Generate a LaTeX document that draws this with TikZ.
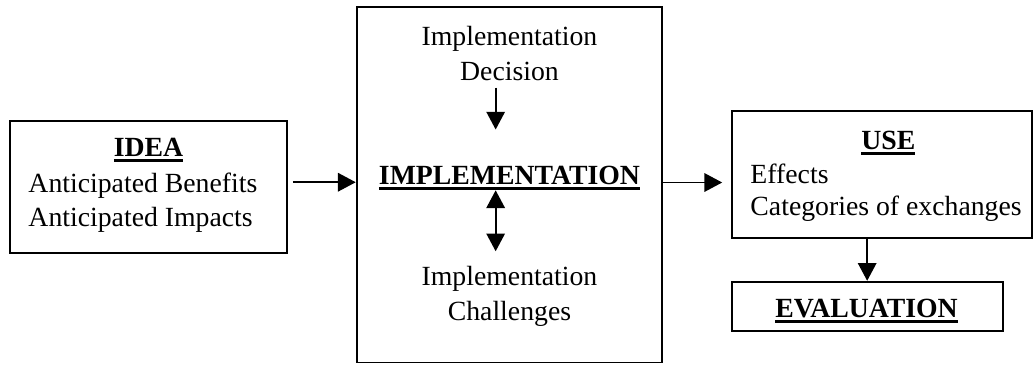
\documentclass[tikz,border=0pt]{standalone}
\usepackage{fontspec}
\setmainfont{Liberation Serif}
\usepackage{tikz}
\usetikzlibrary{arrows.meta, calc}
\newsavebox{\headbox}
\newcommand{\heading}[1]{\sbox{\headbox}{\textbf{#1}}\rlap{\usebox{\headbox}}\rule[-2.4pt]{\wd\headbox}{1.3pt}}
\tikzstyle{stage} = [rectangle, draw=black, line width=0.8pt, inner sep=0pt]
\tikzstyle{phasetext} = [inner sep=0pt, anchor=base, font=\fontsize{12}{14}\selectfont]
\tikzstyle{arrow} = [line width=0.8pt,-{Triangle[length=0.27cm,width=0.28cm]}]
\tikzstyle{twoway} = [line width=0.8pt,{Triangle[length=0.27cm,width=0.28cm]}-{Triangle[length=0.27cm,width=0.28cm]}]

\begin{document}
\begin{tikzpicture}
    \useasboundingbox (0, 0) rectangle (15.717, -5.548);

    % Boxes
    \node[stage, minimum width=4.21cm, minimum height=2.011cm] (idea) at (2.257, -2.840) {};
    \node[stage, minimum width=4.641cm, minimum height=5.399cm] (impl) at (7.742, -2.810) {};
    \node[stage, minimum width=4.565cm, minimum height=1.94cm] (use) at (13.404, -2.652) {};
    \node[stage, minimum width=4.119cm, minimum height=0.749cm] (eval) at (13.181, -4.657) {};

    % Idea
    \node[phasetext] (ideaT) at (2.257, -2.382) {\heading{IDEA}};
    \node[phasetext, anchor=base west] (benefits) at (0.426, -2.929) {Anticipated Benefits};
    \node[phasetext, anchor=base west] (impacts) at (0.426, -3.446) {Anticipated Impacts};

    % Implementation
    \node[phasetext] (dec1) at (7.744, -0.699) {Implementation};
    \node[phasetext] (dec2) at (7.744, -1.216) {Decision};
    \node[phasetext] (implT) at (7.744, -2.801) {\heading{IMPLEMENTATION}};
    \node[phasetext] (chal1) at (7.744, -4.343) {Implementation};
    \node[phasetext] (chal2) at (7.744, -4.879) {Challenges};

    % Use and evaluation
    \node[phasetext] (useT) at (13.502, -2.272) {\heading{USE}};
    \node[phasetext, anchor=base west] (effects) at (11.4, -2.782) {Effects};
    \node[phasetext, anchor=base west] (categories) at (11.4, -3.268) {Categories of exchanges};
    \node[phasetext] (evalT) at (13.171, -4.829) {\heading{EVALUATION}};

    % Arrows
    \draw[arrow, shorten <=0.076cm] ([yshift=0.07cm]idea.east) -- ([yshift=0.07cm]idea.east -| impl.west);
    \draw[arrow, shorten >=0.13cm] ([yshift=0.036cm]impl.east) -- ([yshift=0.036cm]impl.east -| use.west);
    \draw[arrow] (eval.north |- use.south) -- (eval.north);
    \draw[arrow, shorten <=0.106cm, shorten >=0.546cm] ([xshift=-0.21cm]dec2.south) -- ([xshift=-0.21cm]dec2.south |- implT.north);
    \draw[twoway, shorten >=0.224cm] ([xshift=-0.21cm]implT.south) -- ([xshift=-0.21cm]implT.south |- chal1.north);
\end{tikzpicture}
\end{document}
